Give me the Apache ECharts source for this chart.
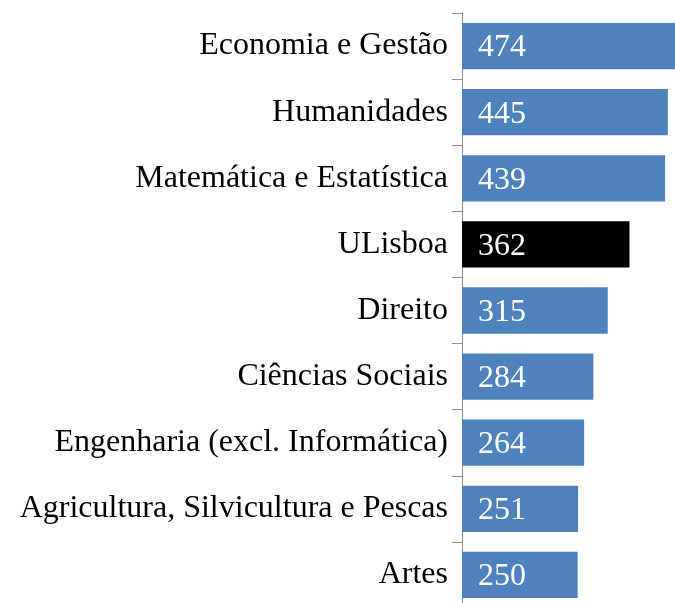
<!DOCTYPE html>
<html>
<head>
<meta charset="utf-8">
<script src="https://cdn.jsdelivr.net/npm/echarts@6/dist/echarts.min.js"></script>
<style>
  html, body { margin: 0; padding: 0; background: #fff; }
  #chart { width: 675px; height: 603px; }
</style>
</head>
<body>
<div id="chart"></div>
<script>
// areas, top to bottom
const categories = [
  'Economia e Gestão',
  'Humanidades',
  'Matemática e Estatística',
  'ULisboa',
  'Direito',
  'Ciências Sociais',
  'Engenharia (excl. Informática)',
  'Agricultura, Silvicultura e Pescas',
  'Artes'
];
const values = [474, 445, 439, 362, 315, 284, 264, 251, 250];
const highlight = 'ULisboa';

const chart = echarts.init(document.getElementById('chart'));
const font = '"Liberation Serif", "Times New Roman", serif';

const option = {
  backgroundColor: '#fff',
  animation: false,
  grid: {
    left: 462,
    top: 13,
    width: 229,
    height: 595,
    outerBoundsMode: 'none'
  },
  xAxis: {
    type: 'value',
    min: 0,
    max: 495,
    show: false
  },
  yAxis: {
    type: 'category',
    inverse: true,
    data: categories,
    axisLine: { show: true, lineStyle: { color: '#8c8c8c', width: 1 } },
    axisTick: { show: true, length: 10, lineStyle: { color: '#8c8c8c' } },
    axisLabel: {
      color: '#000',
      fontFamily: font,
      fontSize: 32,
      margin: 14,
      padding: [4, 0, 0, 0]
    }
  },
  series: [
    {
      type: 'bar',
      barCategoryGap: '30%',
      data: values.map((v, i) => ({
        value: v,
        itemStyle: { color: categories[i] === highlight ? '#000000' : '#4F81BD' }
      })),
      label: {
        show: true,
        position: 'insideLeft',
        distance: 16,
        offset: [0, 2],
        color: '#fff',
        fontFamily: font,
        fontSize: 32
      }
    }
  ]
};

chart.setOption(option);
window.addEventListener('resize', function () {
  chart.resize();
});
</script>
</body>
</html>
